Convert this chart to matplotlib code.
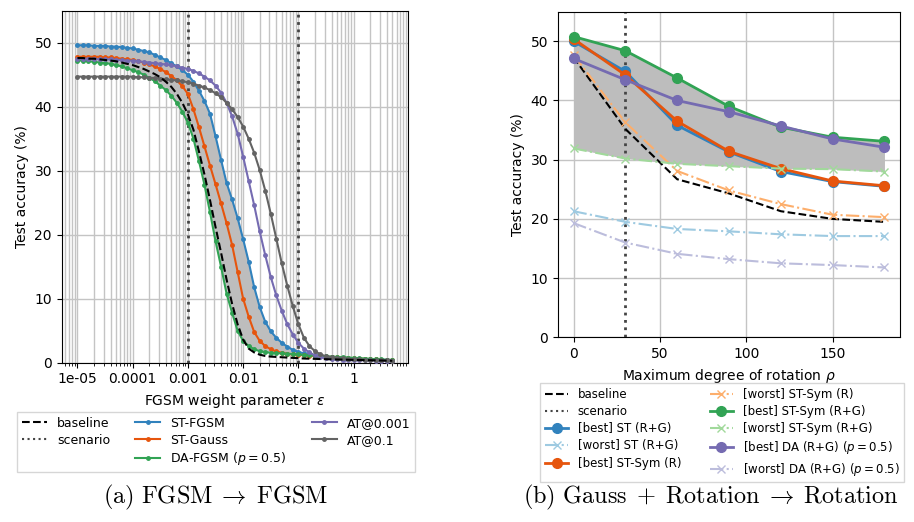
import numpy as np
import matplotlib
matplotlib.use('Agg')
import matplotlib.pyplot as plt
from matplotlib.lines import Line2D

# ---------------- data: left panel (FGSM -> FGSM) ----------------
eps_exp = np.round(np.arange(-5.0, 0.75, 0.1), 1)   # log10 of epsilon sweep
eps = 10.0 ** eps_exp

baseline_l = [47.6, 47.6, 47.5, 47.5, 47.4, 47.3, 47.2, 47.1, 46.9, 46.7,
              46.5, 46.2, 45.9, 45.5, 45.1, 44.6, 43.9, 43.1, 42.0, 40.6,
              38.8, 36.4, 33.0, 29.4, 25.4, 21.2, 17.2, 13.0, 9.2, 6.0,
              3.6, 2.2, 1.6, 1.25, 1.05, 0.95, 0.9, 0.85, 0.8, 0.75,
              0.7, 0.65, 0.62, 0.6, 0.57, 0.55, 0.52, 0.5, 0.48, 0.46,
              0.44, 0.42, 0.4, 0.38, 0.36, 0.34, 0.32, 0.3]
st_fgsm = [49.6, 49.6, 49.6, 49.5, 49.5, 49.5, 49.4, 49.4, 49.3, 49.2,
           49.1, 48.9, 48.7, 48.5, 48.1, 47.7, 47.3, 46.8, 46.3, 45.7,
           45.0, 43.9, 42.5, 40.9, 38.9, 35.4, 31.7, 28.1, 25.5, 22.6,
           19.3, 15.8, 11.8, 8.7, 6.4, 4.9, 3.9, 3.1, 2.5, 2.0,
           1.7, 1.45, 1.3, 1.15, 1.0, 0.9, 0.82, 0.76, 0.7, 0.66,
           0.62, 0.58, 0.55, 0.52, 0.5, 0.47, 0.45, 0.42]
st_gauss = [47.8, 47.8, 47.8, 47.8, 47.8, 47.7, 47.7, 47.6, 47.5, 47.4,
            47.3, 47.1, 46.9, 46.6, 46.3, 45.9, 45.4, 44.8, 44.1, 43.2,
            42.0, 39.6, 36.8, 33.8, 30.8, 27.9, 24.9, 21.8, 18.4, 14.2,
            10.0, 7.2, 4.8, 3.4, 2.6, 2.1, 1.75, 1.55, 1.4, 1.3,
            1.2, 1.15, 1.1, 1.05, 1.0, 0.95, 0.9, 0.85, 0.8, 0.75,
            0.7, 0.65, 0.6, 0.55, 0.5, 0.45, 0.4, 0.38]
da_fgsm = [47.2, 47.2, 47.1, 47.0, 46.9, 46.8, 46.7, 46.5, 46.3, 46.0,
           45.7, 45.4, 45.0, 44.5, 44.0, 43.3, 42.6, 41.7, 40.6, 39.2,
           37.5, 35.0, 31.5, 27.8, 23.5, 19.0, 15.0, 10.8, 7.8, 5.0,
           3.4, 2.6, 2.1, 1.8, 1.65, 1.55, 1.5, 1.45, 1.4, 1.35,
           1.3, 1.2, 1.15, 1.1, 1.05, 1.0, 0.95, 0.9, 0.85, 0.8,
           0.75, 0.7, 0.65, 0.6, 0.55, 0.5, 0.45, 0.4]
at_0001 = [47.5, 47.5, 47.5, 47.5, 47.4, 47.4, 47.4, 47.3, 47.3, 47.2,
           47.2, 47.1, 47.0, 46.9, 46.8, 46.7, 46.6, 46.5, 46.3, 46.1,
           45.9, 45.6, 45.2, 44.7, 44.1, 43.3, 42.2, 40.6, 38.5, 35.8,
           32.2, 28.4, 24.6, 20.5, 16.8, 13.4, 10.5, 8.1, 6.0, 4.4,
           3.1, 2.2, 1.6, 1.15, 0.85, 0.7, 0.6, 0.52, 0.48, 0.45,
           0.42, 0.4, 0.38, 0.36, 0.34, 0.32, 0.3, 0.3]
at_01 = [44.7, 44.7, 44.7, 44.7, 44.7, 44.7, 44.7, 44.7, 44.7, 44.7,
         44.7, 44.6, 44.6, 44.5, 44.5, 44.4, 44.3, 44.2, 44.1, 44.0,
         43.8, 43.6, 43.3, 43.0, 42.6, 42.1, 41.5, 40.6, 39.6, 38.4,
         36.9, 35.0, 32.8, 30.1, 26.9, 23.3, 19.4, 15.5, 12.0, 8.8,
         6.0, 3.9, 2.6, 1.8, 1.3, 1.0, 0.85, 0.75, 0.66, 0.6,
         0.55, 0.5, 0.46, 0.42, 0.4, 0.37, 0.35, 0.33]
scenario_l = [0.001, 0.1]
xtick_vals = [1e-5, 1e-4, 1e-3, 1e-2, 1e-1, 1]
xtick_labels = ['1e-05', '0.0001', '0.001', '0.01', '0.1', '1']

# ---------------- data: right panel (Gauss + Rotation -> Rotation) ----------------
rot = [0, 30, 60, 90, 120, 150, 180]
baseline_r = [47.3, 35.2, 26.7, 24.3, 21.3, 20.0, 19.5]
best_st = [50.0, 44.9, 35.8, 31.3, 28.0, 26.3, 25.5]
worst_st = [21.3, 19.5, 18.3, 17.9, 17.4, 17.1, 17.1]
best_sym_r = [50.4, 44.3, 36.5, 31.4, 28.5, 26.4, 25.6]
worst_sym_r = [47.7, 36.3, 28.1, 24.8, 22.5, 20.7, 20.3]
best_sym_rg = [50.8, 48.4, 43.8, 39.0, 35.5, 33.8, 33.1]
worst_sym_rg = [31.9, 30.2, 29.3, 28.9, 28.5, 28.4, 28.0]
best_da = [47.1, 43.5, 40.0, 38.1, 35.7, 33.5, 32.1]
worst_da = [19.3, 16.0, 14.1, 13.2, 12.5, 12.2, 11.8]
scenario_r = 30

# ---------------- style ----------------
C_BLUE, C_LBLUE = '#3182bd', '#9ecae1'
C_ORANGE, C_LORANGE = '#e6550d', '#fdae6b'
C_GREEN, C_LGREEN = '#31a354', '#a1d99b'
C_PURPLE, C_LPURPLE = '#756bb1', '#bcbddc'
C_GRAY = '#636363'
C_FILL = '#bdbdbd'
C_SCEN = '#444444'
GRID_C = '#c4c4c4'

plt.rcParams['font.family'] = ['DejaVu Sans']
plt.rcParams['font.size'] = 10

fig = plt.figure(figsize=(9.14, 5.22), dpi=100)

# ---------------- left axes ----------------
axl = fig.add_axes([0.0675, 0.3052, 0.4464 - 0.0675, 0.9795 - 0.3052])
axl.set_xscale('log')
axl.grid(True, which='both', axis='x', color=GRID_C, lw=1.0, zorder=0)
axl.grid(True, which='major', axis='y', color=GRID_C, lw=1.0, zorder=0)
axl.set_axisbelow(True)

axl.fill_between(eps, da_fgsm, st_fgsm, color=C_FILL, lw=0, zorder=1)
for s in scenario_l:
    axl.axvline(s, color=C_SCEN, ls=':', lw=2, zorder=2)
mk = dict(marker='.', ms=5, lw=1.5, zorder=3)
axl.plot(eps, st_fgsm, color=C_BLUE, **mk)
axl.plot(eps, st_gauss, color=C_ORANGE, **mk)
axl.plot(eps, da_fgsm, color=C_GREEN, **mk)
axl.plot(eps, at_0001, color=C_PURPLE, **mk)
axl.plot(eps, at_01, color=C_GRAY, **mk)
axl.plot(eps, baseline_l, color='black', ls='--', lw=1.5, zorder=4)

axl.set_ylim(0, 55)
axl.set_xticks(xtick_vals)
axl.set_xticklabels(xtick_labels)
axl.set_yticks([0, 10, 20, 30, 40, 50])
axl.set_xlabel(r'FGSM weight parameter $\varepsilon$')
axl.set_ylabel('Test accuracy (%)')

hl = [Line2D([], [], color='black', ls='--', lw=1.5),
      Line2D([], [], color=C_SCEN, ls=':', lw=1.5),
      Line2D([], [], alpha=0),
      Line2D([], [], color=C_BLUE, marker='.', ms=5, lw=1.5),
      Line2D([], [], color=C_ORANGE, marker='.', ms=5, lw=1.5),
      Line2D([], [], color=C_GREEN, marker='.', ms=5, lw=1.5),
      Line2D([], [], color=C_PURPLE, marker='.', ms=5, lw=1.5),
      Line2D([], [], color=C_GRAY, marker='.', ms=5, lw=1.5)]
ll = ['baseline', 'scenario', '', 'ST-FGSM', 'ST-Gauss', r'DA-FGSM ($p = 0.5$)',
      'AT@0.001', 'AT@0.1']
fig.legend(hl, ll, loc='upper left', bbox_to_anchor=(0.0189, 0.2113), ncol=3,
           fontsize=9, handlelength=2.0, columnspacing=2.0, labelspacing=0.31,
           borderaxespad=0, fancybox=False)

# ---------------- right axes ----------------
axr = fig.add_axes([0.6105, 0.3538, 0.9847 - 0.6105, 0.9776 - 0.3538])
axr.grid(True, color=GRID_C, lw=1.0, zorder=0)
axr.set_axisbelow(True)
axr.fill_between(rot, worst_sym_rg, best_sym_rg, color=C_FILL, lw=0, zorder=1)

best_kw = dict(marker='o', ms=7, lw=2, zorder=3)
worst_kw = dict(marker='x', ms=6, lw=1.5, ls='-.', zorder=3)
h_base, = axr.plot(rot, baseline_r, color='black', ls='--', lw=1.5, zorder=3)
h_scen = axr.axvline(scenario_r, color=C_SCEN, ls=':', lw=2, zorder=2)
h1, = axr.plot(rot, best_st, color=C_BLUE, **best_kw)
h2, = axr.plot(rot, worst_st, color=C_LBLUE, **worst_kw)
h3, = axr.plot(rot, best_sym_r, color=C_ORANGE, **best_kw)
h4, = axr.plot(rot, worst_sym_r, color=C_LORANGE, **worst_kw)
h5, = axr.plot(rot, best_sym_rg, color=C_GREEN, **best_kw)
h6, = axr.plot(rot, worst_sym_rg, color=C_LGREEN, **worst_kw)
h7, = axr.plot(rot, best_da, color=C_PURPLE, **best_kw)
h8, = axr.plot(rot, worst_da, color=C_LPURPLE, **worst_kw)

axr.set_ylim(0, 55)
axr.set_xticks([0, 50, 100, 150])
axr.set_yticks([0, 10, 20, 30, 40, 50])
axr.set_xlabel(r'Maximum degree of rotation $\rho$')
axr.set_ylabel('Test accuracy (%)')

h_scen_leg = Line2D([], [], color=C_SCEN, ls=':', lw=1.5)
hr = [h_base, h_scen_leg, h1, h2, h3, h4, h5, h6, h7, h8]
lr = ['baseline', 'scenario', '[best] ST (R+G)', '[worst] ST (R+G)',
      '[best] ST-Sym (R)', '[worst] ST-Sym (R)', '[best] ST-Sym (R+G)',
      '[worst] ST-Sym (R+G)', r'[best] DA (R+G) ($p = 0.5$)',
      r'[worst] DA (R+G) ($p = 0.5$)']
fig.legend(hr, lr, loc='upper left', bbox_to_anchor=(0.5908, 0.2663), ncol=2,
           fontsize=8.5, handlelength=2.0, columnspacing=2.4, labelspacing=0.36,
           borderaxespad=0, fancybox=False)

# ---------------- captions ----------------
fig.text(0.236, 0.048, r'$\mathrm{(a)\ FGSM} \;\rightarrow\; \mathrm{FGSM}$',
         ha='center', va='center', fontsize=17.5, math_fontfamily='cm')
fig.text(0.778, 0.048,
         r'$\mathrm{(b)\ Gauss} \;+\; \mathrm{Rotation} \;\rightarrow\; \mathrm{Rotation}$',
         ha='center', va='center', fontsize=17.5, math_fontfamily='cm')

fig.savefig('out.png', dpi=100)
